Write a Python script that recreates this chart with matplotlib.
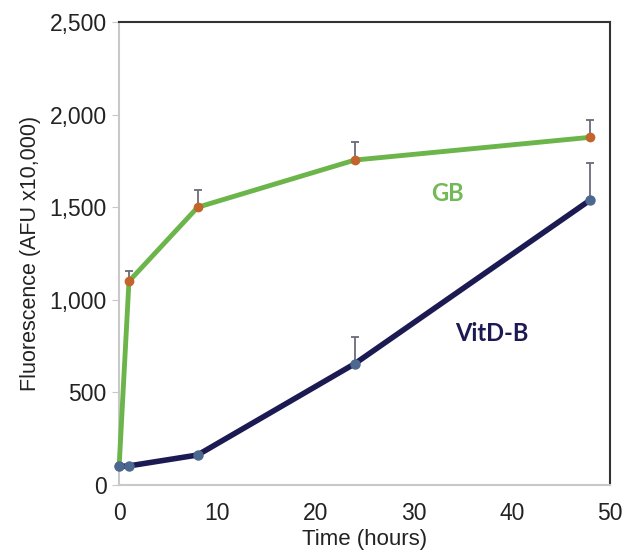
import numpy as np
import matplotlib.pyplot as plt

plt.rcParams['font.family'] = ['Liberation Sans', 'DejaVu Sans']

hours_gb = [0, 1, 8, 24, 48]
gb_vals = [100, 1100, 1500, 1755, 1878]
gb_err = [0, 55, 95, 100, 95]

hours_vit = [0, 1, 8, 24, 48]
vit_vals = [100, 103, 162, 655, 1540]
vit_err = [0, 0, 0, 145, 200]

fig = plt.figure(figsize=(6.27, 5.53), dpi=100)
ax = fig.add_axes([0.19, 0.123, 0.783, 0.837])

# error bars (upper only)
ax.errorbar(hours_gb, gb_vals, yerr=[np.zeros(len(gb_err)), gb_err], fmt='none',
            ecolor='#6b6b78', elinewidth=1.3, capsize=3, capthick=1.3, zorder=2)
ax.errorbar(hours_vit, vit_vals, yerr=[np.zeros(len(vit_err)), vit_err], fmt='none',
            ecolor='#6b6b78', elinewidth=1.3, capsize=3, capthick=1.3, zorder=2)

ax.plot(hours_gb, gb_vals, color='#6cb54a', lw=3.5, zorder=3, clip_on=False)
ax.plot(hours_gb, gb_vals, 'o', color='#c2652c', ms=6, zorder=4, clip_on=False)
ax.plot(hours_vit, vit_vals, color='#1c1a52', lw=4, zorder=5, clip_on=False)
ax.plot(hours_vit, vit_vals, 'o', color='#4c6890', ms=6.5, zorder=6, clip_on=False)

ax.text(33.4, 1577, 'GB', color='#72b957', fontsize=17, fontweight='bold',
        family='Lato', ha='center', va='center')
ax.text(38, 820, 'VitD-B', color='#1c1a52', fontsize=17, fontweight='bold',
        family='Lato', ha='center', va='center')

ax.set_xlim(0, 50)
ax.set_ylim(0, 2500)
ax.set_xticks([0, 10, 20, 30, 40, 50])
ax.set_yticks([0, 500, 1000, 1500, 2000, 2500])
ax.set_yticklabels(['0', '500', '1,000', '1,500', '2,000', '2,500'])
ax.tick_params(axis='y', length=5, color='#c8c8c8', labelsize=16.5, pad=4,
               labelcolor='#222222')
ax.tick_params(axis='x', length=0, labelsize=16.5, pad=12, labelcolor='#222222')
ax.set_xlabel('Time (hours)', fontsize=16, labelpad=3, color='#222222')
ax.set_ylabel('Fluorescence (AFU x10,000)', fontsize=15.5, labelpad=6,
              color='#222222')

ax.spines['left'].set_color('#c8c8c8')
ax.spines['bottom'].set_color('#c8c8c8')
ax.spines['top'].set_color('#333333')
ax.spines['right'].set_color('#333333')
for s in ax.spines.values():
    s.set_linewidth(1.5)

fig.savefig('out.png', dpi=100)
